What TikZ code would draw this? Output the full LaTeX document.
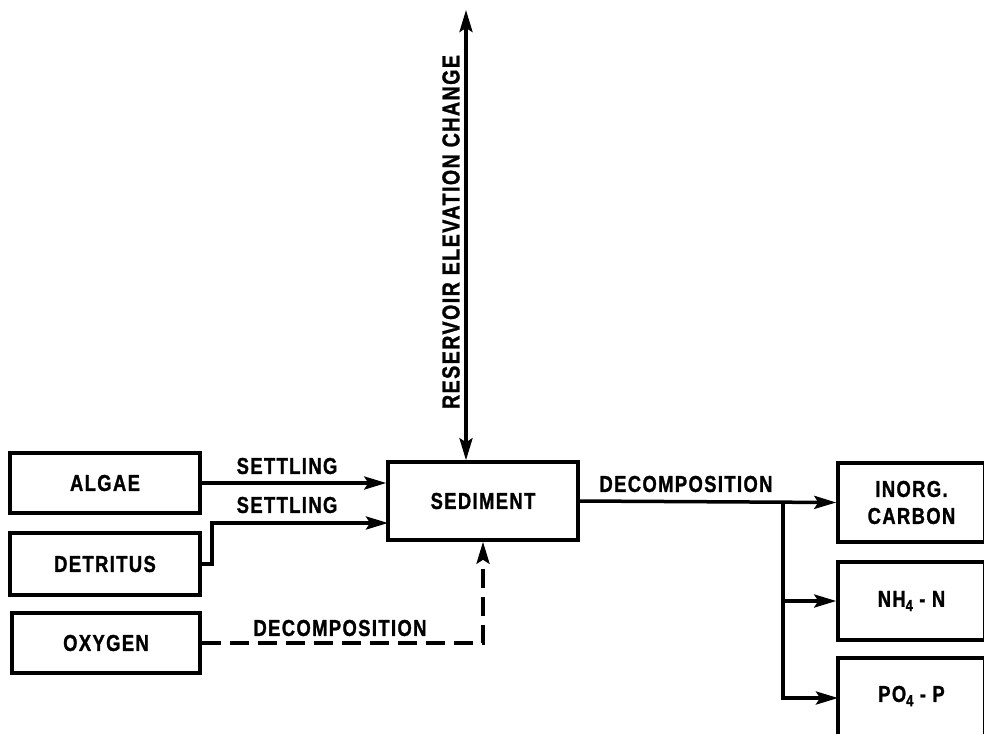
\documentclass[tikz,border=0pt]{standalone}
\usepackage{fontspec}
\setmainfont{Liberation Sans}[FakeStretch=0.8,LetterSpace=6,FakeBold=1.2]
\usetikzlibrary{arrows.meta,calc}
\begin{document}
\begin{tikzpicture}[x=1pt,y=-1pt,
  box/.style={draw,line width=3.5pt,rectangle,inner sep=0pt,font=\fontsize{23}{26}\selectfont\bfseries,align=center},
  tip/.tip={Stealth[length=22pt,width=13pt,inset=4pt]},
  conn/.style={line width=3.5pt,-tip},
  lab/.style={font=\fontsize{23}{26}\selectfont\bfseries,inner sep=0pt},
  dashline/.style={dash pattern=on 19pt off 9pt}]
\useasboundingbox (0,0) rectangle (984,733);
\clip (0,0) rectangle (984,733);
\node[box,minimum width=190pt,minimum height=60pt] (algae) at (105,483) {ALGAE};
\node[box,minimum width=190pt,minimum height=62pt] (det) at (105,564) {DETRITUS};
\node[box,minimum width=188pt,minimum height=60pt] (oxy) at (106,643) {OXYGEN};
\node[box,minimum width=190pt,minimum height=78pt] (sed) at (483,501) {SEDIMENT};
\node[box,minimum width=147pt,minimum height=79pt] (inorg) at (911.5,502.5) {INORG.\\[1pt]CARBON};
\node[box,minimum width=147pt,minimum height=78pt] (nh4) at (911.5,601) {NH\raisebox{-0.35ex}{\fontsize{16}{17}\selectfont 4} - N};
\node[box,minimum width=147pt,minimum height=130pt] (po4) at (911.5,723) {};
\node[lab] (po4t) at (911.5,696) {PO\raisebox{-0.35ex}{\fontsize{16}{17}\selectfont 4} - P};
\coordinate (top) at (466,10);
\coordinate (sedin2) at (388,523);
\coordinate (branch) at (783,502);
\coordinate (po4in) at (838,698);
\draw[conn] (algae.east) -- (algae.east -| sed.west);
\draw[conn] (det.east) -- ++(10,0) |- (sedin2);
\draw[conn,dashline] (oxy.east) -| (sed.south);
\draw[line width=3.5pt,tip-tip] (top) -- (top |- sed.north);
\draw[conn] (sed.east) -- (inorg.west);
\draw[conn] (branch) |- (nh4.west);
\draw[conn] (branch) |- (po4in);
\node[lab] (l1) at (287,466) {SETTLING};
\node[lab] (l2) at (287,505) {SETTLING};
\node[lab] (l3) at (340,628) {DECOMPOSITION};
\node[lab] (l4) at (686,484) {DECOMPOSITION};
\node[lab,font=\fontsize{24.5}{26}\selectfont\bfseries,rotate=90] (l5) at (451,232) {RESERVOIR ELEVATION CHANGE};
\end{tikzpicture}
\end{document}
